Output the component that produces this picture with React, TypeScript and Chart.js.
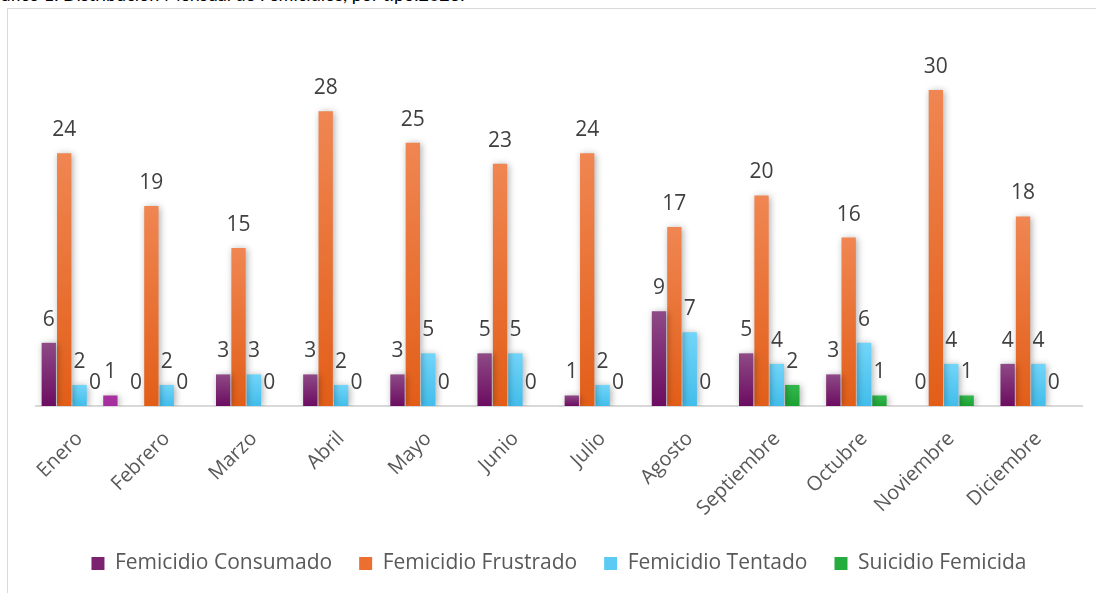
import React, { useEffect, useRef } from "react";
import { Chart, registerables } from "chart.js";

Chart.register(...registerables);

const months = ["Enero", "Febrero", "Marzo", "Abril", "Mayo", "Junio", "Julio", "Agosto", "Septiembre", "Octubre", "Noviembre", "Diciembre"];
const consumado = [6, 0, 3, 3, 3, 5, 1, 9, 5, 3, 0, 4];
const frustrado = [24, 19, 15, 28, 25, 23, 24, 17, 20, 16, 30, 18];
const tentado = [2, 2, 3, 2, 5, 5, 2, 7, 4, 6, 4, 4];
const suicidio = [0, 0, 0, 0, 0, 0, 0, 0, 2, 1, 1, 0];
const otro = [1, null, null, null, null, null, null, null, null, null, null, null];
const seriesNames = ["Femicidio Consumado", "Femicidio Frustrado", "Femicidio Tentado", "Suicidio Femicida", "Otro"];
const titleText = "Gráfico 1. Distribución Mensual de Femicidios, por tipo.2023.";

const topColors = ["#8E4A86", "#F08652", "#72D5FA", "#33B84E", "#A8339F"];
const bottomColors = ["#6C0C61", "#E25E18", "#42BDEB", "#1BA232", "#A52D9D"];
const legendColors = ["#7B2370", "#EC6F30", "#5BCBF4", "#25AC3F", "#A52D9D"];

const FONT = "'Open Sans', sans-serif";

function gradientFor(i: number) {
  return (ctx: any) => {
    const chart = ctx.chart;
    if (!chart.chartArea || ctx.type !== "data") return legendColors[i];
    const v = ctx.raw;
    if (v == null) return legendColors[i];
    const ys = chart.scales.y;
    const yTop = ys.getPixelForValue(v);
    const yBot = ys.getPixelForValue(0);
    if (!(yBot - yTop > 0.5)) return legendColors[i];
    const g = chart.ctx.createLinearGradient(0, yTop, 0, yBot);
    g.addColorStop(0, topColors[i]);
    g.addColorStop(1, bottomColors[i]);
    return g;
  };
}

const valueLabels = {
  id: "valueLabels",
  beforeDatasetsDraw(chart: any) {
    const c = chart.ctx;
    c.save();
    c.shadowColor = "rgba(0,0,0,0.33)";
    c.shadowBlur = 7;
    c.shadowOffsetX = 1.5;
    c.shadowOffsetY = 1;
  },
  afterDatasetsDraw(chart: any) {
    const c = chart.ctx;
    c.restore();
    c.save();
    c.font = `21px ${FONT}`;
    c.fillStyle = "#404040";
    c.textAlign = "center";
    c.textBaseline = "alphabetic";
    chart.data.datasets.forEach((ds: any, i: number) => {
      const meta = chart.getDatasetMeta(i);
      meta.data.forEach((el: any, j: number) => {
        const v = ds.data[j];
        if (v == null) return;
        c.fillText(String(v), el.x, el.y - 17);
      });
    });
    c.restore();
  },
};

export default function App() {
  const ref = useRef<HTMLCanvasElement | null>(null);

  useEffect(() => {
    document.body.style.margin = "0";
    const canvas = ref.current;
    if (!canvas) return;
    const seriesData = [consumado, frustrado, tentado, suicidio, otro];
    const chart = new Chart(canvas, {
      type: "bar",
      data: {
        labels: months,
        datasets: seriesData.map((d, i) => ({
          label: seriesNames[i],
          data: d,
          backgroundColor: gradientFor(i),
          borderWidth: 0,
          categoryPercentage: 0.883,
          barPercentage: 0.93,
        })),
      },
      options: {
        responsive: false,
        animation: false,
        devicePixelRatio: 1,
        layout: { padding: { left: 36, right: 14, top: 69, bottom: 9 } },
        scales: {
          x: {
            offset: true,
            grid: { display: false, drawTicks: false },
            border: { display: true, color: "#D9D9D9", width: 2 },
            ticks: {
              minRotation: 45,
              maxRotation: 45,
              autoSkip: false,
              padding: 21,
              color: "#595959",
              font: { size: 20, family: FONT },
            },
            afterFit: (s: any) => {
              s.height = 120;
              s.paddingLeft = 0;
              s.paddingRight = 0;
            },
          },
          y: { display: false, min: 0, max: 32 },
        },
        plugins: {
          tooltip: { enabled: false },
          legend: {
            position: "bottom",
            labels: {
              boxWidth: 13,
              boxHeight: 13,
              padding: 27,
              color: "#595959",
              font: { size: 21, family: FONT },
              generateLabels: () =>
                seriesNames.slice(0, 4).map((n, i) => ({
                  text: n,
                  fillStyle: legendColors[i],
                  strokeStyle: legendColors[i],
                  fontColor: "#595959",
                  lineWidth: 0,
                  hidden: false,
                  datasetIndex: i,
                })),
            },
          },
        },
      },
      plugins: [valueLabels],
    });
    return () => chart.destroy();
  }, []);

  return (
    <div style={{ position: "relative", width: 1096, height: 593, overflow: "hidden", background: "#fff" }}>
      <div
        style={{
          position: "absolute",
          left: -18,
          top: -15,
          fontFamily: "Lato, sans-serif",
          fontSize: 18,
          lineHeight: "18px",
          whiteSpace: "nowrap",
          color: "#000",
        }}
      >
        {titleText}
      </div>
      <div
        style={{
          position: "absolute",
          left: 7,
          top: 8,
          width: 1200,
          height: 700,
          border: "1px solid #D9D9D9",
        }}
      />
      <canvas ref={ref} width={1096} height={593} style={{ position: "absolute", left: 0, top: 0, width: 1096, height: 593 }} />
    </div>
  );
}
